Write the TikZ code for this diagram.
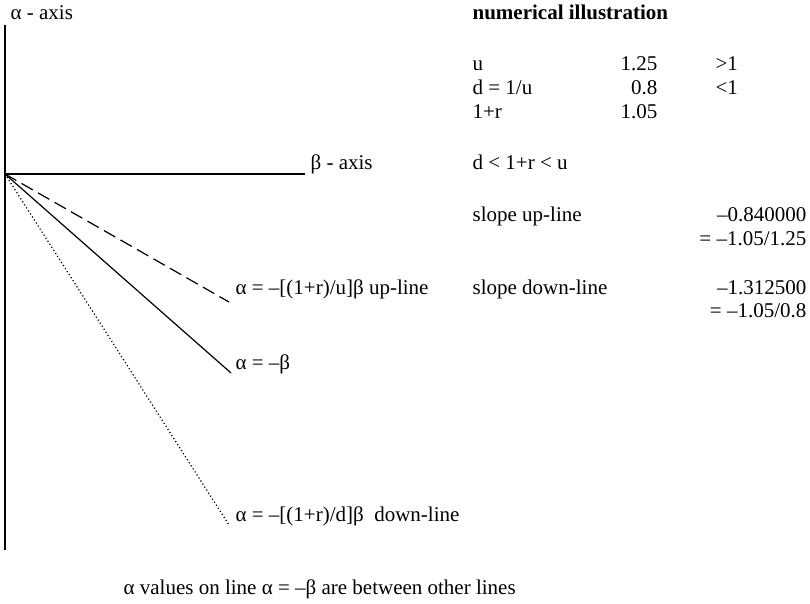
\documentclass[tikz,border=0pt]{standalone}
\usepackage{fontspec}
\setmainfont{Liberation Serif}
\usetikzlibrary{positioning}

\begin{document}
\begin{tikzpicture}[x=0.5pt, y=-0.5pt, line width=0.6pt,
    txt/.style={inner sep=0pt, anchor=base west, font=\fontsize{10.5}{12}\selectfont},
    num/.style={txt, anchor=base east},
    axis/.style={line width=0.9pt}]

\useasboundingbox (0,0) rectangle (810,604);

% axes
\coordinate (o) at (5,174);
\coordinate (top) at (5,25);
\coordinate (bot) at (5,550);
\coordinate (right) at (305,174);
\draw[axis] (top) -- (bot);
\draw[axis] (o) -- (right);
\node[txt] (aaxis) at (10,20) {α - axis};
\node[txt] (baxis) at (310,170) {β - axis};

% lines through the origin
\coordinate (upend) at (229,302);
\coordinate (midend) at (231,373);
\coordinate (downend) at (229,525);
\draw[dash pattern=on 6.5pt off 3pt] (o) -- (upend);
\draw (o) -- (midend);
\draw[dash pattern=on 0.6pt off 1.2pt] (o) -- (downend);
\node[txt] (uplbl) at (235,295) {α = –[(1+r)/u]β up-line};
\node[txt] (midlbl) at (235,370) {α = –β};
\node[txt] (downlbl) at (235,522) {α = –[(1+r)/d]β~ down-line};
\node[txt] (note) at (123,595) {α values on line α = –β are between other lines};

% numbers
\node[txt] (title) at (472,20) {\bfseries numerical illustration};
\node[txt] (u) at (472,71) {u};
\node[txt] (d) at (472,95) {d = 1/u};
\node[txt] (r) at (472,119) {1+r};
\node[num] (uval) at (658,71) {1.25};
\node[num] (dval) at (658,95) {0.8};
\node[num] (rval) at (658,119) {1.05};
\node[txt] (gt) at (715,71) {>1};
\node[txt] (lt) at (715,95) {<1};
\node[txt] (ineq) at (472,170) {d < 1+r < u};
\node[txt] (slopeup) at (472,222) {slope up-line};
\node[num] (slopeupval) at (807,222) {–0.840000};
\node[num] (slopeupeq) at (807,246) {= –1.05/1.25};
\node[txt] (slopedn) at (472,295) {slope down-line};
\node[num] (slopednval) at (807,295) {–1.312500};
\node[num] (slopedneq) at (807,318) {= –1.05/0.8};
\end{tikzpicture}
\end{document}
